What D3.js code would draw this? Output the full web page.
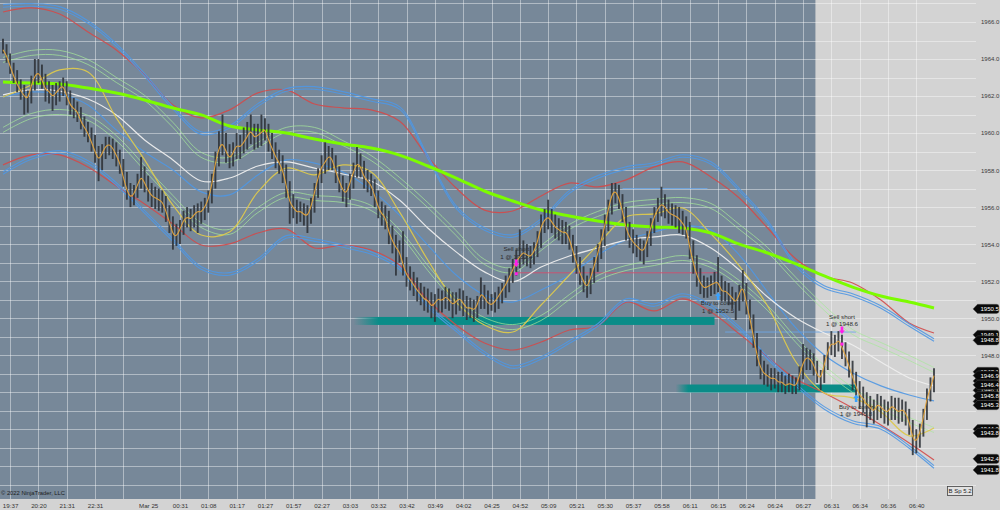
<!DOCTYPE html>
<html><head><meta charset="utf-8">
<script src="https://cdn.jsdelivr.net/npm/d3@7"></script>
<style>
html,body{margin:0;padding:0;background:#d3d3d3;}
svg{display:block;font-family:"Liberation Sans",Arial,sans-serif;}
</style></head><body>
<svg id="c" width="1000" height="510"></svg>
<script>
// ---------- DATA ----------
const closes=[
1964.5,1964.2,1963.6,1963.1,1962.6,1962.3,1962.0,1961.8,1962.6,1963.1,
1963.3,1962.9,1962.3,1962.3,1961.9,1962.2,1962.4,1962.6,1962.0,1961.5,
1961.3,1961.2,1960.6,1960.3,1960.0,1959.5,1959.0,1958.5,1958.9,1959.3,
1959.4,1959.2,1958.8,1958.4,1957.6,1956.9,1956.5,1956.7,1957.2,1957.7,
1957.3,1956.9,1956.6,1956.5,1956.4,1956.3,1955.8,1955.2,1954.5,1954.4,
1954.8,1955.3,1955.5,1955.3,1955.6,1955.8,1955.7,1956.0,1956.4,1957.2,
1958.4,1959.2,1959.5,1959.0,1958.6,1958.9,1959.4,1959.2,1959.5,1959.8,
1960.2,1959.7,1959.9,1960.0,1960.3,1959.6,1959.2,1958.7,1958.4,1958.0,
1957.2,1956.2,1956.0,1955.7,1955.8,1955.6,1955.5,1956.0,1956.8,1957.6,
1958.2,1958.4,1958.8,1958.6,1957.9,1957.4,1956.9,1956.7,1957.3,1957.9,
1958.4,1958.2,1957.6,1957.4,1957.2,1956.6,1956.0,1955.6,1955.5,1954.6,
1954.2,1953.8,1953.6,1952.9,1952.3,1952.1,1951.8,1951.5,1951.3,1951.0,
1951.0,1950.6,1950.8,1951.1,1950.9,1951.2,1951.0,1950.7,1950.9,1951.1,
1950.8,1950.5,1950.6,1950.4,1950.7,1951.4,1951.1,1950.8,1950.7,1950.9,
1951.2,1951.5,1951.8,1952.2,1952.6,1953.1,1953.3,1953.6,1953.4,1953.3,
1953.6,1954.1,1955.0,1955.3,1955.5,1955.2,1954.9,1954.8,1954.6,1954.7,
1954.3,1953.6,1953.0,1952.4,1952.0,1951.6,1952.2,1952.8,1953.5,1954.2,
1955.0,1955.9,1956.7,1956.9,1956.5,1955.8,1954.8,1954.4,1954.1,1953.9,
1953.7,1953.6,1954.2,1954.9,1955.5,1955.9,1956.2,1956.0,1955.7,1955.6,
1955.5,1955.4,1955.1,1954.9,1953.8,1953.0,1952.3,1951.9,1951.6,1951.7,
1951.8,1951.9,1952.0,1951.4,1951.5,1951.3,1951.1,1950.8,1951.3,1951.8,
1950.8,1950.0,1949.0,1948.0,1947.3,1947.0,1946.9,1946.7,1946.8,1946.5,
1946.6,1946.3,1946.5,1946.4,1946.3,1946.9,1947.6,1947.9,1947.8,1947.5,
1946.9,1946.7,1947.5,1948.2,1948.7,1948.5,1948.9,1948.4,1948.0,1947.4,
1946.8,1946.3,1945.8,1945.7,1945.3,1945.2,1944.9,1945.4,1945.2,1945.0,
1944.9,1945.3,1945.1,1944.9,1945.1,1944.9,1944.4,1943.5,1943.3,1943.8,
1944.6,1945.7,1946.2,1946.9];
const highs=[
1965.1,1964.8,1964.3,1963.8,1963.4,1962.9,1962.6,1962.3,1963.1,1964.0,
1964.0,1963.7,1963.2,1962.8,1962.6,1962.7,1962.8,1963.0,1962.8,1962.3,
1961.9,1961.7,1961.4,1960.9,1960.6,1960.3,1959.9,1959.3,1959.4,1959.8,
1959.8,1959.7,1959.5,1959.1,1958.6,1957.9,1957.3,1957.2,1957.8,1958.7,
1958.2,1957.7,1957.3,1957.1,1957.0,1956.9,1956.6,1956.1,1955.5,1955.1,
1955.3,1955.8,1956.0,1955.9,1956.1,1956.2,1956.3,1956.5,1956.9,1957.8,
1959.0,1960.1,1961.0,1960.0,1959.4,1959.5,1960.0,1959.9,1960.3,1960.6,
1961.0,1960.5,1960.5,1961.0,1960.8,1960.5,1960.0,1959.5,1959.1,1958.8,
1958.3,1957.4,1956.7,1956.4,1956.3,1956.2,1956.1,1956.5,1957.3,1958.1,
1958.8,1959.5,1959.3,1959.2,1958.8,1958.2,1957.7,1957.3,1957.8,1958.4,
1959.25,1958.9,1958.5,1958.0,1957.8,1957.5,1956.9,1956.3,1956.1,1955.8,
1955.0,1954.5,1954.2,1954.7,1953.3,1952.8,1952.5,1952.2,1951.9,1951.7,
1951.6,1951.4,1951.3,1951.6,1951.5,1951.7,1951.6,1951.4,1951.4,1951.6,
1951.5,1951.2,1951.1,1951.0,1951.2,1952.2,1951.8,1951.5,1951.3,1951.4,
1951.7,1951.9,1952.3,1952.7,1953.2,1953.7,1954.8,1954.2,1954.0,1953.9,
1954.1,1954.7,1955.6,1955.9,1956.4,1955.9,1955.6,1955.4,1955.3,1955.2,
1955.0,1954.5,1953.9,1953.3,1952.8,1952.3,1952.7,1953.3,1954.0,1954.8,
1955.6,1956.4,1957.3,1957.3,1957.2,1956.7,1956.0,1955.2,1954.8,1954.5,
1954.3,1954.2,1954.7,1955.4,1956.0,1956.5,1957.1,1956.7,1956.4,1956.2,
1956.1,1956.0,1955.8,1955.5,1955.2,1954.2,1953.4,1952.7,1952.3,1952.2,
1952.3,1952.5,1953.3,1952.3,1952.0,1951.9,1951.7,1951.4,1951.8,1952.6,
1951.9,1951.0,1950.2,1949.2,1948.3,1947.7,1947.5,1947.3,1947.3,1947.1,
1947.1,1946.9,1947.0,1946.9,1946.8,1947.4,1948.6,1948.4,1948.3,1948.1,
1947.7,1947.2,1948.0,1948.7,1949.3,1949.1,1949.3,1949.1,1948.7,1948.2,
1947.7,1947.1,1946.6,1946.3,1946.0,1945.8,1945.6,1945.9,1945.8,1945.6,
1945.5,1945.8,1945.7,1945.7,1945.6,1945.5,1945.1,1944.5,1944.0,1944.3,
1945.1,1946.2,1946.8,1947.3];
const lows=[
1964.3,1963.8,1963.2,1962.7,1962.2,1961.8,1961.0,1961.1,1961.6,1962.3,
1962.7,1962.4,1961.7,1961.6,1961.2,1961.5,1961.7,1962.0,1961.5,1961.0,
1960.8,1960.6,1960.2,1959.8,1959.5,1959.0,1958.4,1957.4,1958.0,1958.6,
1958.8,1958.6,1958.2,1957.8,1957.1,1956.4,1956.0,1956.1,1956.5,1957.0,
1956.8,1956.3,1956.0,1955.9,1955.8,1955.7,1955.2,1954.6,1953.7,1953.9,
1954.0,1954.5,1954.9,1954.7,1954.9,1954.6,1955.1,1955.3,1955.7,1956.2,
1957.0,1958.2,1958.8,1958.4,1958.1,1958.2,1958.6,1958.6,1958.9,1959.1,
1959.4,1959.1,1959.2,1959.3,1959.6,1959.0,1958.6,1958.1,1957.8,1957.3,
1956.5,1955.1,1955.4,1955.1,1955.2,1955.0,1954.6,1955.1,1955.7,1956.5,
1957.3,1957.8,1958.0,1958.0,1957.3,1956.8,1956.3,1956.0,1956.4,1957.0,
1957.6,1957.6,1957.0,1956.8,1956.6,1956.0,1955.4,1955.0,1954.8,1954.0,
1953.5,1952.3,1953.0,1952.3,1951.7,1951.5,1951.2,1950.9,1950.7,1950.4,
1950.3,1950.0,1949.8,1950.3,1950.3,1950.5,1950.4,1950.0,1950.2,1950.4,
1950.1,1949.9,1950.0,1949.8,1950.0,1950.5,1950.5,1950.2,1950.4,1950.3,
1950.5,1950.8,1951.1,1951.4,1951.9,1952.3,1952.7,1952.9,1952.8,1952.7,
1952.9,1953.3,1953.8,1954.6,1954.8,1954.6,1954.3,1954.2,1954.0,1954.0,
1953.7,1953.0,1952.4,1951.8,1951.4,1951.1,1951.3,1951.9,1952.5,1953.2,
1953.9,1954.7,1955.6,1956.2,1955.9,1955.2,1954.2,1953.8,1953.5,1953.3,
1953.1,1952.9,1953.3,1953.9,1954.6,1955.2,1955.5,1955.4,1955.1,1955.0,
1954.9,1954.6,1954.5,1954.3,1953.2,1952.4,1951.7,1951.3,1951.1,1951.1,
1951.2,1951.3,1951.4,1950.9,1950.9,1950.7,1950.5,1949.9,1950.4,1950.9,
1950.2,1949.4,1948.4,1947.4,1946.7,1946.4,1946.3,1946.1,1946.2,1946.0,
1946.0,1945.9,1946.0,1945.9,1945.9,1946.1,1946.7,1947.2,1947.2,1946.9,
1946.5,1946.1,1946.5,1947.2,1948.0,1947.9,1948.2,1947.8,1947.4,1946.8,
1946.1,1945.6,1945.1,1944.9,1944.1,1944.5,1944.3,1944.5,1944.6,1944.3,
1944.2,1944.5,1944.5,1944.3,1944.4,1944.2,1943.7,1942.6,1942.7,1943.0,
1943.6,1944.5,1945.5,1946.0];

const timeTickBars=[2,10,18,26,34,41,50,58,66,74,82,90,98,106,114,122,130,138,146,154,162,170,178,186,194,202,210,218,226,234,242,250,258];
const timeLabels=["19:37","20:20","21:31","22:31","","Mar 25","00:31","01:08","01:17","01:27","01:57","02:27","03:03","03:32","03:42","03:49","04:02","04:25","04:52","05:09","05:21","05:30","05:37","05:58","06:11","06:15","06:24","06:24","06:27","06:31","06:34","06:36","06:40"];
const priceTicks=[1942,1944,1946,1948,1950,1952,1954,1956,1958,1960,1962,1964,1966];

// indicator samples (bar index of each sample)
const bandBars=[0,8,16,24,32,40,48,56,64,72,80,88,96,104,112,120,128,136,144,152,160,168,176,184,192,200,208,216,224,232,240,248,256,263];
const sma200=[1962.76,1962.7,1962.65,1962.43,1962.16,1961.79,1961.35,1960.98,1960.38,1960.17,1960.0,1959.68,1959.41,1959.19,1958.81,1958.22,1957.57,1956.87,1956.33,1955.84,1955.52,1955.25,1955.03,1954.92,1954.87,1954.6,1954.0,1953.52,1952.93,1952.28,1951.68,1951.2,1950.87,1950.55];
const redUpper=[1966.54,1966.76,1966.43,1965.46,1964.49,1963.14,1961.52,1960.82,1961.25,1962.17,1962.33,1961.57,1961.36,1961.25,1960.65,1958.71,1957.03,1955.84,1955.79,1956.6,1957.3,1957.09,1957.47,1958.17,1958.44,1957.63,1956.49,1954.87,1953.2,1952.28,1951.9,1950.98,1949.74,1949.2];
const blueUpper=[1966.87,1966.92,1966.76,1966.0,1964.76,1963.14,1961.36,1960.0,1960.33,1961.52,1962.33,1962.44,1962.17,1961.79,1961.36,1958.71,1956.0,1954.82,1954.44,1955.3,1956.82,1957.63,1958.11,1958.33,1958.76,1958.38,1956.93,1955.2,1952.87,1951.68,1951.25,1950.6,1949.63,1948.82];
const redLower=[1958.28,1958.82,1958.82,1958.17,1957.14,1956.17,1955.09,1953.95,1954.01,1954.6,1954.82,1953.79,1953.95,1953.68,1952.87,1950.98,1949.63,1948.66,1948.28,1948.71,1949.36,1949.58,1950.87,1950.39,1951.04,1950.33,1949.15,1947.9,1946.71,1945.96,1945.15,1944.23,1943.26,1942.34];
const blueLower=[1957.84,1958.65,1958.98,1958.44,1957.25,1955.74,1954.22,1952.71,1952.39,1953.14,1954.39,1954.22,1953.9,1953.52,1952.71,1950.66,1949.36,1948.12,1947.36,1947.85,1948.71,1949.63,1950.98,1950.71,1951.25,1950.66,1949.47,1947.85,1946.39,1945.15,1944.39,1944.07,1943.04,1941.96];
const greenUpper=[1963.95,1964.33,1964.33,1963.84,1962.87,1961.9,1960.44,1958.82,1958.55,1959.36,1960.17,1960.17,1959.46,1958.65,1957.47,1956.11,1954.6,1953.04,1952.6,1953.79,1954.93,1955.63,1956.11,1956.28,1956.38,1956.06,1954.93,1953.68,1952.06,1950.55,1949.25,1948.55,1947.85,1947.2];
const greenLower=[1960.17,1960.92,1961.14,1960.82,1959.73,1958.11,1956.49,1955.03,1954.66,1955.84,1956.66,1956.49,1956.38,1955.95,1954.66,1952.71,1950.98,1949.9,1949.52,1950.01,1951.14,1952.17,1952.71,1952.98,1953.25,1952.87,1951.9,1950.55,1948.82,1947.31,1946.12,1945.2,1944.5,1943.96];
const yellowAvg=[1961.95,1962.6,1963.41,1963.3,1960.82,1958.55,1956.11,1954.49,1954.66,1956.82,1958.11,1957.74,1958.28,1957.9,1955.74,1953.14,1950.87,1949.63,1949.25,1950.71,1952.33,1953.95,1955.47,1955.63,1955.95,1954.55,1952.82,1950.66,1947.63,1945.96,1945.69,1944.93,1943.64,1944.07];
const whiteAvg=[1962.06,1962.33,1962.27,1961.84,1960.98,1959.63,1958.55,1957.41,1957.57,1958.22,1958.44,1958.11,1957.79,1957.41,1956.38,1954.87,1953.58,1952.5,1951.96,1952.76,1953.36,1953.79,1954.22,1954.39,1954.49,1953.79,1952.6,1951.14,1950.01,1949.2,1948.55,1947.63,1946.77,1946.34];
const blueMid=[1961.95,1962.22,1962.11,1961.52,1960.17,1958.98,1958.01,1956.82,1956.66,1957.74,1958.55,1958.38,1957.9,1956.93,1955.57,1953.95,1952.33,1951.25,1950.87,1951.52,1952.33,1953.41,1954.22,1954.66,1954.98,1954.76,1953.41,1951.41,1949.47,1948.01,1947.04,1946.34,1945.85,1945.53];

const zones=[{from:99,to:201,price:1949.85},{from:190,to:241,price:1946.2}];
const orderLines=[{from:145,to:202,price:1952.45,kind:"short"},{from:175,to:199,price:1957.0,kind:"level"},{from:204,to:241,price:1949.25,kind:"level"}];
const tradeArrows=[{bar:145,price:1952.93,kind:"sell"},{bar:202,price:1951.22,kind:"buy"},{bar:237,price:1949.31,kind:"sell"},{bar:241,price:1945.71,kind:"buy"}];
const fillDots=[{bar:145,price:1952.4},{bar:237,price:1948.6}];
const tradeNotes=[
 {bar:145,price:1953.74,text:"Sell short"},{bar:145,price:1953.3,text:"1 @ 1952.4"},
 {bar:202,price:1950.82,text:"Buy to cover"},{bar:202,price:1950.39,text:"1 @ 1952.5"},
 {bar:237,price:1950.06,text:"Sell short"},{bar:237,price:1949.68,text:"1 @ 1948.6"},
 {bar:241,price:1945.2,text:"Buy to cover"},{bar:241,price:1944.82,text:"1 @ 1945.8"}];
const hiddenTags=[1947.1,1946.6,1946.1,1945.5,1944.0];
const shownTags=[1950.5,1949.1,1948.8,1946.9,1946.4,1945.8,1945.3,1943.8,1942.4,1941.8];
const sessionSplitBar=229.5;

// ---------- DRAW ----------
const FONT="Liberation Sans, Arial, sans-serif";
const svg=d3.select("#c");
const N=closes.length;
const x=d3.scaleLinear().domain([0,N-1]).range([3,934]);
const y=d3.scaleLinear().domain([1941,1967]).range([484.75,3.49]);
const plotRight=976, plotBottom=499;

svg.append("rect").attr("width",1000).attr("height",510).attr("fill","#d3d3d3");
svg.append("rect").attr("x",0).attr("y",0).attr("width",x(sessionSplitBar)).attr("height",plotBottom).attr("fill","#778899");

const defs=svg.append("defs");
const gr=defs.append("linearGradient").attr("id","tealFade");
gr.append("stop").attr("offset","0").attr("stop-color","#0a8c88").attr("stop-opacity",0);
gr.append("stop").attr("offset","0.07").attr("stop-color","#0a8c88").attr("stop-opacity",1);
gr.append("stop").attr("offset","1").attr("stop-color","#0a8c88").attr("stop-opacity",1);

// grid
const grid=svg.append("g").attr("stroke","rgba(255,255,255,0.42)").attr("stroke-width",1);
d3.range(1941,1968).forEach(p=>{
  grid.append("line").attr("x1",0).attr("x2",plotRight).attr("y1",Math.round(y(p))+0.5).attr("y2",Math.round(y(p))+0.5);
});
timeTickBars.forEach((b,i)=>{
  if(timeLabels[i]==="Mar 25") return;
  grid.append("line").attr("x1",Math.round(x(b))+0.5).attr("x2",Math.round(x(b))+0.5).attr("y1",0).attr("y2",plotBottom);
});

// zones
zones.forEach(z=>{
  svg.append("rect").attr("x",x(z.from)).attr("width",x(z.to)-x(z.from))
    .attr("y",y(z.price)-4).attr("height",8).attr("fill","url(#tealFade)");
});

// order lines
orderLines.forEach(o=>{
  svg.append("line").attr("x1",x(o.from)).attr("x2",x(o.to)).attr("y1",y(o.price)).attr("y2",y(o.price))
   .attr("stroke",o.kind==="short"?"#d2506e":"#6fa8e6").attr("stroke-width",1).attr("opacity",0.9);
});

// indicator lines
const curve=d3.curveCatmullRom.alpha(0.5);
function band(vals,color,width,offsets,opacity){
  const gen=d3.line().x((d,i)=>x(bandBars[i])).y(d=>y(d)).curve(curve);
  offsets.forEach(o=>{
    svg.append("path").attr("d",gen(vals)).attr("fill","none").attr("stroke",color)
      .attr("stroke-width",width).attr("opacity",opacity).attr("transform",`translate(0,${o})`);
  });
}
band(greenUpper,"#a6e89a",1,[-2.5,2.5],0.7);
band(greenLower,"#a6e89a",1,[-2.5,2.5],0.7);
band(redUpper,"#d24a4a",1.2,[0],0.9);
band(redLower,"#d24a4a",1.2,[0],0.9);
band(blueUpper,"#4f97e3",1.1,[-1.3,1.3],0.9);
band(blueLower,"#4f97e3",1.1,[-1.3,1.3],0.9);
band(blueMid,"#4f97e3",1.2,[0],0.9);
band(whiteAvg,"#eeeeee",1.2,[0],0.95);
band(yellowAvg,"#dcc84e",1.2,[0],0.95);
band(sma200,"#7cfc00",3,[0],1);

// trade notes (under bars)
svg.append("g").selectAll("text").data(tradeNotes).join("text")
  .attr("x",d=>x(d.bar)).attr("y",d=>y(d.price)).attr("dy","0.35em")
  .attr("text-anchor","middle").attr("font-size",6.2).attr("font-family",FONT).attr("fill","#2b2b2b").text(d=>d.text);

// bars
svg.append("g").selectAll("line").data(closes).join("line")
  .attr("x1",(d,i)=>x(i)).attr("x2",(d,i)=>x(i))
  .attr("y1",(d,i)=>y(highs[i])).attr("y2",(d,i)=>y(lows[i]))
  .attr("stroke","#2e3238").attr("stroke-width",1.9).attr("opacity",0.88);

// fast line through closes
svg.append("path").attr("d",d3.line().x((d,i)=>x(i)).y(d=>y(d)).curve(d3.curveBasis)(closes))
  .attr("fill","none").attr("stroke","#e3a33c").attr("stroke-width",1.1).attr("opacity",0.95);

// arrows
tradeArrows.forEach(a=>{
  const cx=x(a.bar), cy=y(a.price);
  const p = a.kind==="sell"
   ? `M${cx-1.3},${cy-4.5}h2.6v4h1.6l-2.9,3.5l-2.9,-3.5h1.6z`
   : `M${cx-1.3},${cy+4.5}h2.6v-4h1.6l-2.9,-3.5l-2.9,3.5h1.6z`;
  svg.append("path").attr("d",p).attr("fill",a.kind==="sell"?"#ff1ee8":"#3aa2ff");
});
fillDots.forEach(f=>{
  svg.append("rect").attr("x",x(f.bar)-1.5).attr("y",y(f.price)-1.5).attr("width",3).attr("height",3).attr("fill","#ff1ee8");
});

// axes
const yAx=svg.append("g").attr("transform",`translate(979,0)`)
  .call(d3.axisRight(y).tickValues(priceTicks).tickFormat(d3.format(".1f")).tickSize(0).tickPadding(2));
yAx.select(".domain").remove();
yAx.selectAll("text").attr("font-size",6).attr("fill","#3a3a3a").attr("font-family",FONT);

const xAx=svg.append("g").attr("transform",`translate(0,502)`)
  .call(d3.axisBottom(x).tickValues(timeTickBars).tickFormat((d,i)=>timeLabels[i]).tickSize(0).tickPadding(2));
xAx.select(".domain").remove();
xAx.selectAll("text").attr("font-size",6.2).attr("fill","#333").attr("font-family",FONT);

// price tags
function tag(v){
  const cy=y(v);
  const g=svg.append("g");
  g.append("path").attr("d",`M973,${cy} L977.5,${cy-4.6} L996.5,${cy-4.6} Q999,${cy-4.6} 999,${cy-2.2} L999,${cy+2.2} Q999,${cy+4.6} 996.5,${cy+4.6} L977.5,${cy+4.6} Z`)
   .attr("fill","#0a0a0a").attr("stroke","#555").attr("stroke-width",0.4);
  g.append("text").attr("x",980.5).attr("y",cy).attr("dy","0.35em").attr("font-size",6).attr("font-family",FONT).attr("fill","#fff").text(d3.format(".1f")(v));
}
hiddenTags.forEach(tag);
shownTags.forEach(tag);

// footer
svg.append("text").attr("x",1).attr("y",495).attr("font-size",5.8).attr("font-family",FONT).attr("fill","#1c1c1c").text("© 2022 NinjaTrader, LLC");
svg.append("rect").attr("x",947.5).attr("y",486.5).attr("width",25).attr("height",9).attr("fill","#e2e2e2").attr("stroke","#444").attr("stroke-width",0.8);
svg.append("text").attr("x",960).attr("y",491).attr("dy","0.35em").attr("text-anchor","middle").attr("font-size",6).attr("font-family",FONT).attr("fill","#222").text("B Sp 5.2");
</script>
</body></html>
